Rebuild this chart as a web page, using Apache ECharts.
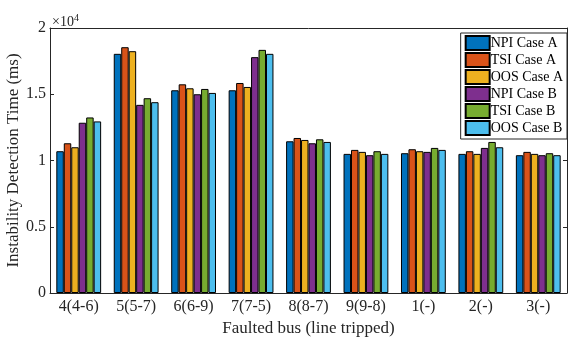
<!DOCTYPE html>
<html>
<head>
<meta charset="utf-8">
<script src="https://cdn.jsdelivr.net/npm/echarts@6/dist/echarts.min.js"></script>
<style>
  html, body { margin: 0; padding: 0; background: #fff; }
  #chart { width: 569px; height: 339px; }
</style>
</head>
<body>
<div id="chart"></div>
<script>
// faulted bus (line tripped)
const categories = ['4(4-6)', '5(5-7)', '6(6-9)', '7(7-5)', '8(8-7)', '9(9-8)', '1(-)', '2(-)', '3(-)'];

// detection time in ms
const npiA = [10700, 18050, 15300, 15300, 11450, 10500, 10550, 10500, 10400];
const tsiA = [11300, 18550, 15750, 15850, 11700, 10800, 10850, 10700, 10650];
const oosA = [11000, 18250, 15450, 15550, 11550, 10650, 10700, 10500, 10500];
const npiB = [12850, 14200, 15000, 17800, 11300, 10400, 10650, 10950, 10400];
const tsiB = [13250, 14700, 15400, 18350, 11600, 10700, 10950, 11400, 10550];
const oosB = [12950, 14400, 15100, 18050, 11400, 10500, 10800, 11000, 10400];

const seriesNames = ['NPI Case A', 'TSI Case A', 'OOS Case A', 'NPI Case B', 'TSI Case B', 'OOS Case B'];
const seriesData = [npiA, tsiA, oosA, npiB, tsiB, oosB];
const colors = ['#0072BD', '#D95319', '#EDB120', '#7E2F8E', '#77AC30', '#4DBEEE'];

const serif = '"Liberation Serif", "DejaVu Serif", serif';
const ink = '#262626';

const chart = echarts.init(document.getElementById('chart'));

const option = {
    animation: false,
    color: colors,
    textStyle: { fontFamily: serif },
    grid: { left: 50, right: 2, top: 28, bottom: 46, outerBoundsMode: 'none', containLabel: false },
    legend: {
        orient: 'vertical',
        right: 2,
        top: 33,
        icon: 'rect',
        itemWidth: 24,
        itemHeight: 14,
        itemGap: 1,
        padding: [2, 4, 3, 4],
        borderColor: ink,
        borderWidth: 1,
        backgroundColor: '#fff',
        textStyle: { fontFamily: serif, fontSize: 14, lineHeight: 14, color: '#000', padding: [0, 0, 0, -4] },
        data: seriesNames
    },
    graphic: [{
        type: 'text',
        left: 52,
        top: 13,
        style: {
            text: '×10{sup|4}',
            font: '14px ' + serif,
            fill: ink,
            rich: { sup: { fontSize: 10, verticalAlign: 'top', padding: [0, 0, 8, 0], fontFamily: serif } }
        }
    }],
    xAxis: [{
        type: 'category',
        data: categories,
        name: 'Faulted bus (line tripped)',
        nameLocation: 'middle',
        nameGap: 25,
        nameTextStyle: { fontSize: 17, color: ink, fontFamily: serif },
        axisLine: { onZero: false, lineStyle: { color: ink } },
        axisTick: { inside: true, alignWithLabel: true, length: 4, lineStyle: { color: ink } },
        axisLabel: { fontSize: 16, color: ink, margin: 6, fontFamily: serif }
    }, {
        type: 'category',
        data: categories,
        position: 'top',
        axisLine: { onZero: false, lineStyle: { color: ink } },
        axisTick: { inside: true, alignWithLabel: true, length: 4, lineStyle: { color: ink } },
        axisLabel: { show: false }
    }],
    yAxis: [{
        type: 'value',
        min: 0,
        max: 20000,
        interval: 5000,
        name: 'Instability Detection Time (ms)',
        nameLocation: 'middle',
        nameGap: 28,
        nameMoveOverlap: false,
        nameTextStyle: { fontSize: 17, color: ink, fontFamily: serif },
        axisLine: { show: true, onZero: false, lineStyle: { color: ink } },
        axisTick: { show: true, inside: true, length: 4, lineStyle: { color: ink } },
        splitLine: { show: false },
        axisLabel: {
            fontSize: 16, color: ink, margin: 4, fontFamily: serif,
            formatter: v => String(v / 10000)
        }
    }, {
        type: 'value',
        min: 0,
        max: 20000,
        interval: 5000,
        position: 'right',
        axisLine: { show: true, onZero: false, lineStyle: { color: ink } },
        axisTick: { show: true, inside: true, length: 4, lineStyle: { color: ink } },
        splitLine: { show: false },
        axisLabel: { show: false }
    }],
    series: seriesNames.map((name, i) => ({
        name: name,
        type: 'bar',
        data: seriesData[i],
        barGap: '0%',
        barCategoryGap: '22%',
        itemStyle: { color: colors[i], borderColor: '#000', borderWidth: 1 }
    }))
};

chart.setOption(option);
</script>
</body>
</html>
